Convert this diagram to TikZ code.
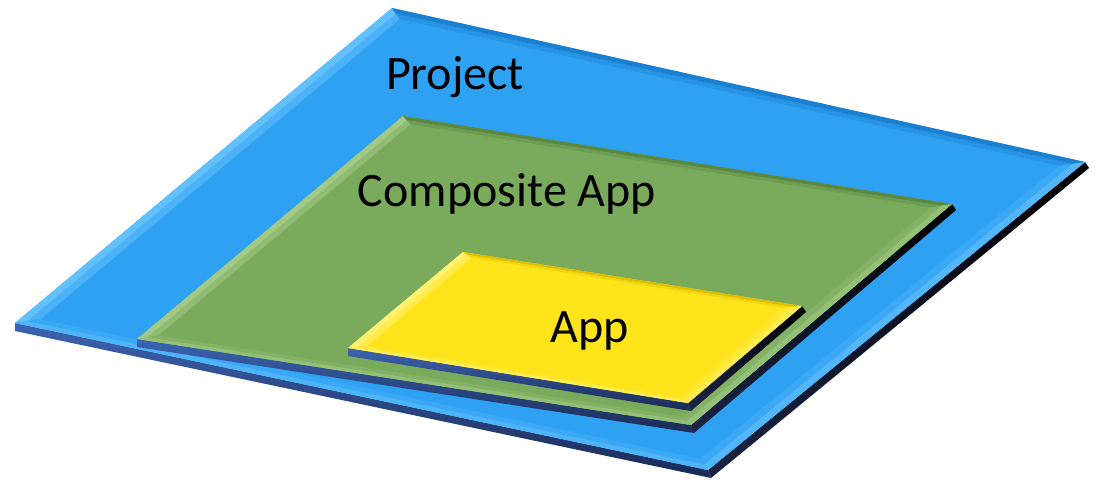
\documentclass[tikz,border=0pt]{standalone}
\usepackage{fontspec}
\setmainfont{Carlito}
\usetikzlibrary{calc}
\definecolor{bBase}{HTML}{2FA1F3}
\definecolor{bTL}{HTML}{62C0FC}
\definecolor{bTR}{HTML}{1B80D0}
\definecolor{bRB}{HTML}{52B6F8}
\definecolor{bBL}{HTML}{4EB4F8}
\definecolor{gBase}{HTML}{7AAB5C}
\definecolor{gTL}{HTML}{A2C985}
\definecolor{gTR}{HTML}{5A8842}
\definecolor{gRB}{HTML}{93BF76}
\definecolor{gBL}{HTML}{93BF76}
\definecolor{yBase}{HTML}{FFE41C}
\definecolor{yTL}{HTML}{FFF170}
\definecolor{yTR}{HTML}{DDBE00}
\definecolor{yRB}{HTML}{FFEC50}
\definecolor{yBL}{HTML}{FFEE5C}
\definecolor{sideHi}{HTML}{3C64B2}
\definecolor{sideLo}{HTML}{1A2A55}
\definecolor{sideR}{HTML}{1B2444}
\tikzset{label text/.style={font=\fontsize{48}{50}\selectfont, text=black, inner sep=0pt}}
% #1 prefix, #2 colour prefix, #3 bevel width
\newcommand\slab[3]{%
  \pgfmathsetmacro\dS{2.2*#3}%
  \pgfmathsetmacro\dV{1.15*#3}%
  \pgfmathsetmacro\hS{1.1*#3}%
  \pgfmathsetmacro\hV{0.58*#3}%
  \coordinate (#1c) at ($0.25*(#1L)+0.25*(#1T)+0.25*(#1R)+0.25*(#1B)$);
  \coordinate (#1iL) at ($(#1L)!\dS pt!(#1c)$);
  \coordinate (#1iR) at ($(#1R)!\dS pt!(#1c)$);
  \coordinate (#1iT) at ($(#1T)!\dV pt!(#1c)$);
  \coordinate (#1iB) at ($(#1B)!\dV pt!(#1c)$);
  \coordinate (#1hL) at ($(#1L)!\hS pt!(#1c)$);
  \coordinate (#1hR) at ($(#1R)!\hS pt!(#1c)$);
  \coordinate (#1hT) at ($(#1T)!\hV pt!(#1c)$);
  \coordinate (#1hB) at ($(#1B)!\hV pt!(#1c)$);
  \coordinate (#1oL) at ($(#1L)+(0,8)$);
  \coordinate (#1oB) at ($(#1B)+(3,8)$);
  \coordinate (#1oR) at ($(#1R)+(4,6)$);
  \shade[top color=sideHi, bottom color=sideLo] (#1L) -- (#1B) -- (#1oB) -- (#1oL) -- cycle;
  \shade[left color=sideR, right color=black] (#1B) -- (#1R) -- (#1oR) -- (#1oB) -- cycle;
  \fill[#2Base] (#1L) -- (#1T) -- (#1R) -- (#1B) -- cycle;
  \fill[#2TL] (#1L) -- (#1T) -- (#1hT) -- (#1hL) -- cycle;
  \fill[#2TR] (#1T) -- (#1R) -- (#1hR) -- (#1hT) -- cycle;
  \fill[#2RB] (#1R) -- (#1B) -- (#1hB) -- (#1hR) -- cycle;
  \fill[#2BL] (#1B) -- (#1L) -- (#1hL) -- (#1hB) -- cycle;
  \fill[#2TL!55!#2Base] (#1hL) -- (#1hT) -- (#1iT) -- (#1iL) -- cycle;
  \fill[#2TR!40!#2Base] (#1hT) -- (#1hR) -- (#1iR) -- (#1iT) -- cycle;
  \fill[#2RB!35!#2Base] (#1hR) -- (#1hB) -- (#1iB) -- (#1iR) -- cycle;
  \fill[#2BL!35!#2Base] (#1hB) -- (#1hL) -- (#1iL) -- (#1iB) -- cycle;
  \fill[#2Base] (#1iL) -- (#1iT) -- (#1iR) -- (#1iB) -- cycle;
}
\begin{document}
\begin{tikzpicture}[x=1pt,y=-1pt]
\useasboundingbox (0,0) rectangle (1099,485);
% Project
\coordinate (pL) at (15,323);
\coordinate (pT) at (392,8);
\coordinate (pR) at (1085,162);
\coordinate (pB) at (708,470);
\slab{p}{b}{12}
% Composite App
\coordinate (cL) at (137,339);
\coordinate (cT) at (403,116);
\coordinate (cR) at (952,204);
\coordinate (cB) at (691,425);
\slab{c}{g}{10}
% App
\coordinate (aL) at (348,348);
\coordinate (aT) at (463,252);
\coordinate (aR) at (802,306);
\coordinate (aB) at (688,403);
\slab{a}{y}{9}
\node[label text] (project) at (455,77) {Project};
\node[label text] (composite) at (507,194) {Composite App};
\node[label text] (app) at (590,331) {App};
\end{tikzpicture}
\end{document}
